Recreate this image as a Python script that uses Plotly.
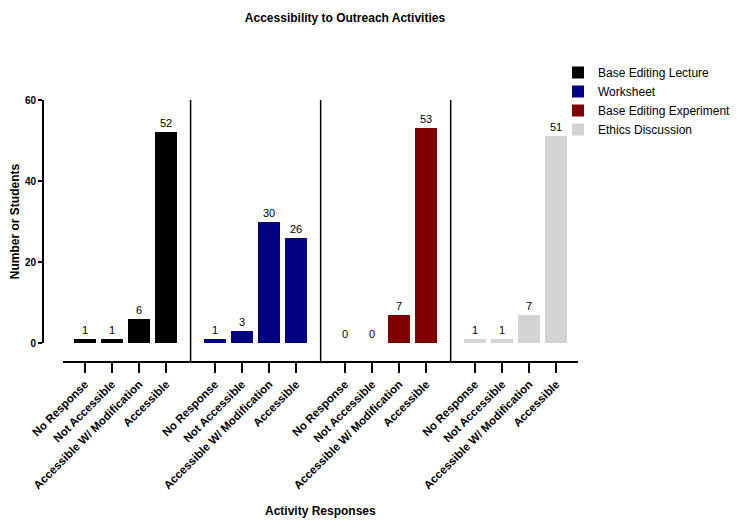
import plotly.graph_objects as go

categories = ["No Response", "Not Accessible", "Accessible W/ Modification", "Accessible"]
series_names = ["Base Editing Lecture", "Worksheet", "Base Editing Experiment", "Ethics Discussion"]
lecture = [1, 1, 6, 52]
worksheet = [1, 3, 30, 26]
experiment = [0, 0, 7, 53]
ethics = [1, 1, 7, 51]
colors = ["#000000", "#000080", "#800000", "#d3d3d3"]
y_ticks = [0, 20, 40, 60]

series_values = [lecture, worksheet, experiment, ethics]
GROUP_STEP = 4.8
FONT = "Liberation Sans, Arial"

fig = go.Figure()
tickvals, ticktext = [], []
for g, (name, vals, col) in enumerate(zip(series_names, series_values, colors)):
    xs = [g * GROUP_STEP + i for i in range(len(categories))]
    tickvals += xs
    ticktext += categories
    fig.add_trace(go.Bar(
        x=xs, y=vals, name=name, marker=dict(color=col, line=dict(width=0)),
        width=0.8, text=[str(v) for v in vals], textposition="outside",
        cliponaxis=False,
        textfont=dict(family=FONT, size=11, color="#000"),
        outsidetextfont=dict(family=FONT, size=11, color="#000"),
    ))

# group separators
for g in range(1, len(series_names)):
    xm = ((g - 1) * GROUP_STEP + len(categories) - 1 + g * GROUP_STEP) / 2
    fig.add_shape(type="line", xref="x", yref="paper", x0=xm, x1=xm, y0=0, y1=1,
                  line=dict(color="#000", width=1.5))

fig.add_annotation(text="<b>Activity Responses</b>", xref="paper", yref="paper",
                   x=0.5 * (1 + 20 / 535), y=-149 / 262, xanchor="center", yanchor="middle",
                   showarrow=False, font=dict(size=12, family=FONT, color="#000"))

W, H = 737, 512
fig.update_layout(
    width=W, height=H,
    margin=dict(l=35, r=167, t=92, b=158, autoexpand=False),
    plot_bgcolor="white", paper_bgcolor="white",
    font=dict(family=FONT, color="#000"),
    title=dict(text="<b>Accessibility to Outreach Activities</b>", x=337 / W, xanchor="center",
               y=1 - 10 / H, yanchor="middle", font=dict(size=12)),
    bargap=0,
    showlegend=True,
    legend=dict(x=(558 - 43) / 535, y=1 + 42 / 262, xanchor="left", yanchor="top",
                font=dict(size=12), tracegroupgap=0, bgcolor="rgba(0,0,0,0)"),
    xaxis=dict(
        domain=[20 / 535, 1], range=[-0.81, 18.2],
        tickmode="array", tickvals=tickvals, ticktext=["<b>%s</b>" % t for t in ticktext],
        tickangle=-45, tickfont=dict(size=11.5),
        showline=True, linecolor="#000", linewidth=2,
        ticks="outside", ticklen=10, tickwidth=2, tickcolor="#000",
        showgrid=False, zeroline=False,
        anchor="free", position=0,
    ),
    yaxis=dict(
        domain=[19 / 262, 1], range=[0, 60],
        tickmode="array", tickvals=y_ticks, ticktext=["<b>%d</b>" % v for v in y_ticks],
        tickfont=dict(size=10),
        showline=True, linecolor="#000", linewidth=2,
        ticks="outside", ticklen=4, tickwidth=2, tickcolor="#000",
        showgrid=False, zeroline=False,
        anchor="free", position=0,
        title=dict(text="<b>Number or Students</b>", font=dict(size=12), standoff=5),
    ),
)

fig.write_html("out.html")
